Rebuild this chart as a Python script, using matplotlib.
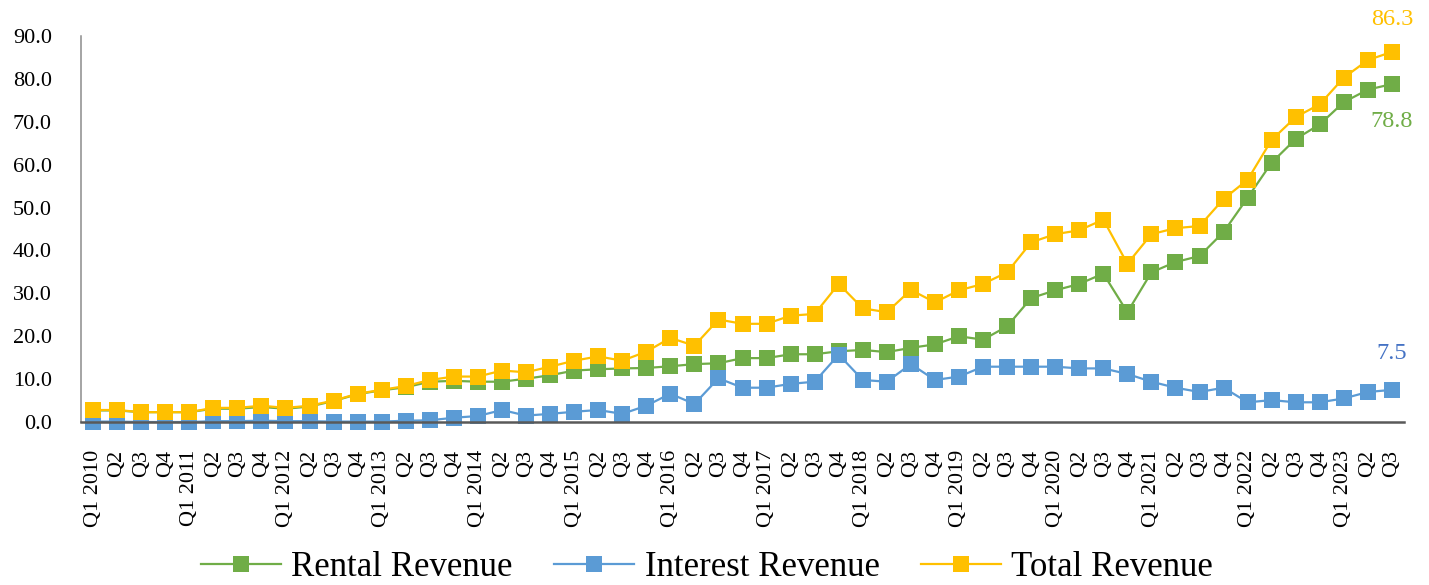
import matplotlib
matplotlib.use("Agg")
import matplotlib.pyplot as plt

plt.rcParams['font.family'] = ['Liberation Serif', 'DejaVu Serif']

QUARTERS = ["Q1 2010", "Q2", "Q3", "Q4",
            "Q1 2011", "Q2", "Q3", "Q4",
            "Q1 2012", "Q2", "Q3", "Q4",
            "Q1 2013", "Q2", "Q3", "Q4",
            "Q1 2014", "Q2", "Q3", "Q4",
            "Q1 2015", "Q2", "Q3", "Q4",
            "Q1 2016", "Q2", "Q3", "Q4",
            "Q1 2017", "Q2", "Q3", "Q4",
            "Q1 2018", "Q2", "Q3", "Q4",
            "Q1 2019", "Q2", "Q3", "Q4",
            "Q1 2020", "Q2", "Q3", "Q4",
            "Q1 2021", "Q2", "Q3", "Q4",
            "Q1 2022", "Q2", "Q3", "Q4",
            "Q1 2023", "Q2", "Q3"]

rental = [2.7, 2.7, 2.3, 2.3,
          2.3, 3.1, 3.1, 3.5,
          3.1, 3.6, 4.9, 6.5,
          7.4, 8.1, 9.4, 9.6,
          9.4, 9.4, 10.1, 10.9,
          12.0, 12.3, 12.5, 12.6,
          13.0, 13.5, 13.7, 14.9,
          14.9, 15.8, 15.8, 16.5,
          16.8, 16.3, 17.3, 18.1,
          20.0, 19.2, 22.3, 28.9,
          30.7, 32.2, 34.6, 25.6,
          34.9, 37.3, 38.7, 44.3,
          52.3, 60.5, 66.0, 69.4,
          74.6, 77.5, 78.8]

interest = [0.1, 0.1, 0.0, 0.0,
            0.0, 0.2, 0.2, 0.3,
            0.2, 0.2, 0.1, 0.1,
            0.1, 0.3, 0.4, 1.0,
            1.4, 2.8, 1.5, 1.9,
            2.4, 2.8, 1.9, 3.8,
            6.6, 4.2, 10.2, 8.0,
            8.0, 8.9, 9.4, 15.7,
            9.8, 9.4, 13.5, 9.8,
            10.6, 12.9, 12.9, 12.9,
            12.9, 12.5, 12.5, 11.2,
            9.4, 8.0, 7.0, 8.0,
            4.6, 5.1, 4.6, 4.6,
            5.5, 7.0, 7.5]

total = [2.8, 2.8, 2.3, 2.3,
         2.3, 3.3, 3.3, 3.8,
         3.3, 3.8, 5.0, 6.6,
         7.5, 8.4, 9.8, 10.6,
         10.6, 12.0, 11.6, 12.9,
         14.3, 15.3, 14.3, 16.4,
         19.6, 17.8, 23.9, 22.9,
         22.9, 24.8, 25.2, 32.2,
         26.5, 25.6, 30.8, 27.9,
         30.7, 32.2, 34.9, 41.9,
         43.8, 44.7, 47.2, 36.9,
         43.8, 45.2, 45.7, 52.0,
         56.5, 65.8, 71.1, 74.1,
         80.3, 84.4, 86.3]

GREEN = "#70AD47"
BLUE = "#5B9BD5"
YELLOW = "#FFC000"

fig = plt.figure(figsize=(14.29, 5.85), dpi=100)
ax = fig.add_axes([0.0567, 0.2786, 0.9258, 0.6598])

x = list(range(len(QUARTERS)))
series = [(rental, GREEN, "Rental Revenue"),
          (interest, BLUE, "Interest Revenue"),
          (total, YELLOW, "Total Revenue")]
for vals, col, name in series:
    ax.plot(x, vals, color=col, linewidth=1.6, marker='s', markersize=12,
            markeredgewidth=0, label=name, clip_on=False)

# labels for the last quarter
ax.annotate(f"{total[-1]:.1f}", (x[-1], total[-1]), xytext=(0, 23), textcoords='offset points',
            ha='center', va='center', color=YELLOW, fontsize=17.5)
ax.annotate(f"{rental[-1]:.1f}", (x[-1], rental[-1]), xytext=(0, -27), textcoords='offset points',
            ha='center', va='center', color=GREEN, fontsize=17.5)
ax.annotate(f"{interest[-1]:.1f}", (x[-1], interest[-1]), xytext=(0, 26), textcoords='offset points',
            ha='center', va='center', color="#4472C4", fontsize=17.5)

ax.set_xlim(-0.5, len(QUARTERS) - 0.5)
ax.set_ylim(0, 90)
ax.set_yticks(range(0, 91, 10))
ax.set_yticklabels([f"{v:.1f}" for v in range(0, 91, 10)])
ax.set_xticks(x)
ax.set_xticklabels(QUARTERS, rotation=90)
ax.tick_params(axis='y', length=0, pad=21, labelsize=16)
ax.tick_params(axis='x', length=0, pad=20, labelsize=16)

for side in ['top', 'right']:
    ax.spines[side].set_visible(False)
ax.spines['left'].set_color('#8C8C8C')
ax.spines['left'].set_linewidth(1.1)
ax.spines['bottom'].set_color('#595959')
ax.spines['bottom'].set_linewidth(1.8)

fig.legend(loc='center', bbox_to_anchor=(0.4948, 0.03), ncol=3, frameon=False,
           fontsize=25, handlelength=2.3, handletextpad=0.3, columnspacing=1.2)

fig.savefig("out.png", dpi=100)
